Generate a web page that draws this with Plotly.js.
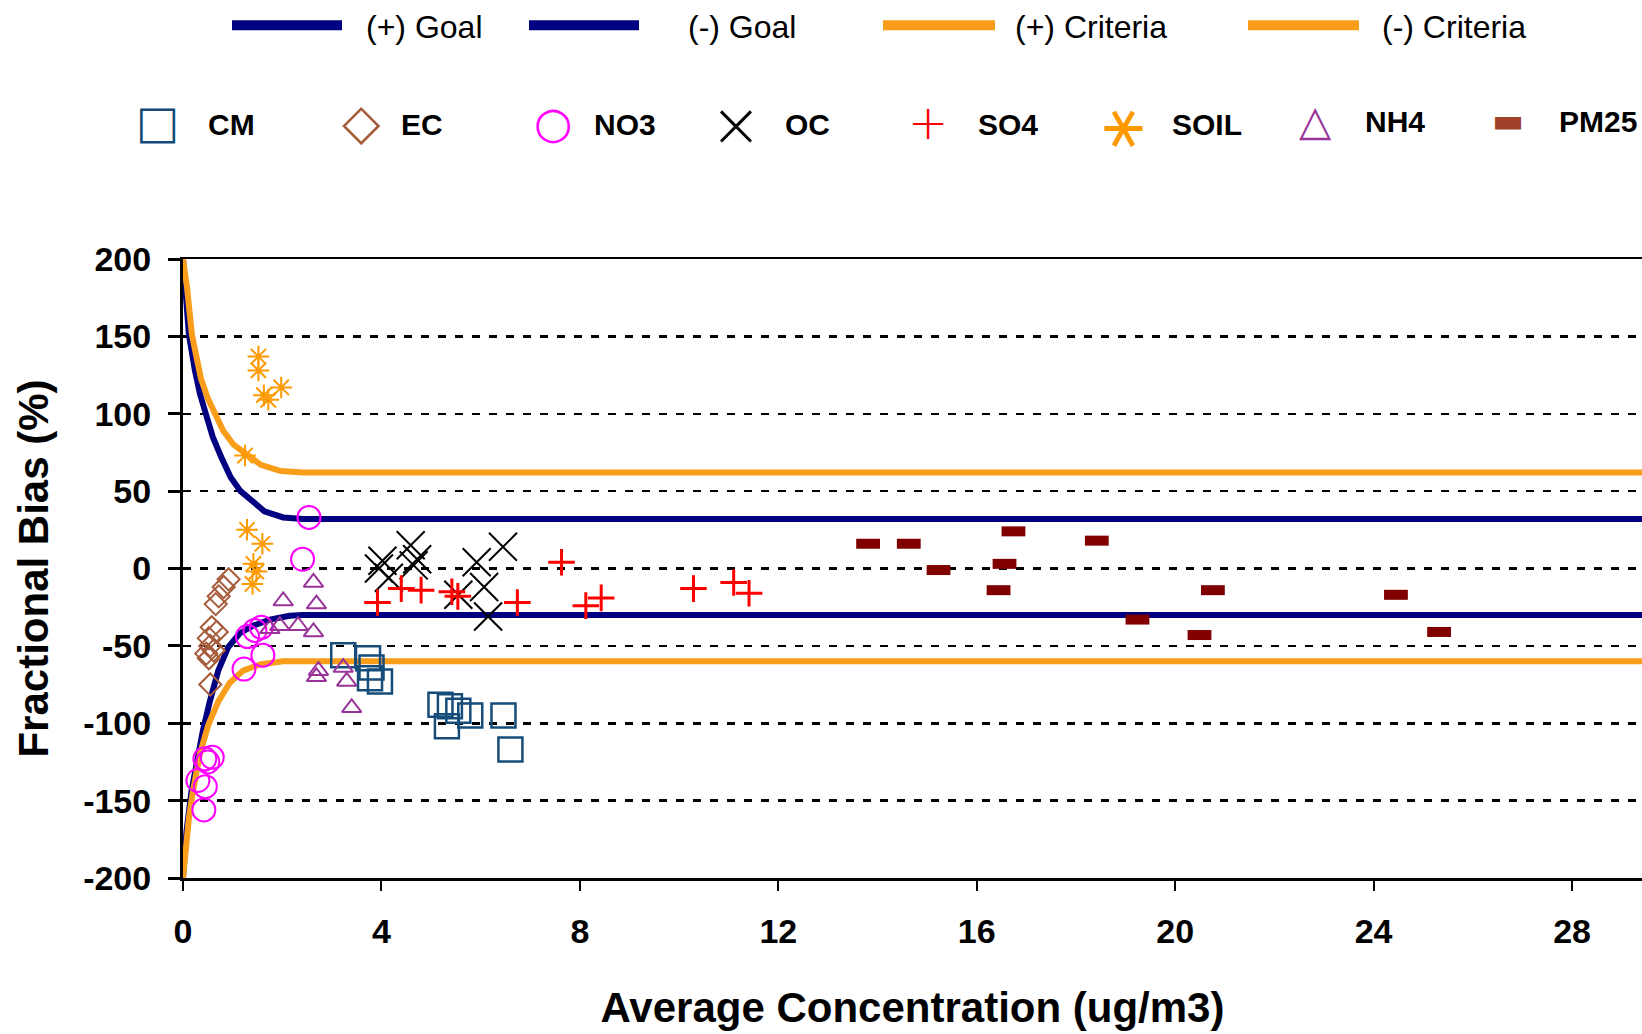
<!DOCTYPE html>
<html>
<head>
<meta charset="utf-8">
<script src="https://cdn.plot.ly/plotly-3.0.1.min.js"></script>
<style>
  html, body { margin: 0; padding: 0; background: #ffffff; }
  #chart { width: 1642px; height: 1034px; }
</style>
</head>
<body>
<div id="chart"></div>
<script>
// ---------- goal / criteria curves ----------
const goalPosX = [0, 0.07, 0.12, 0.24, 0.34, 0.46, 0.60, 0.77, 0.96, 1.16, 1.37, 1.64, 2.02, 2.42, 29.6];
const goalPosY = [200, 171, 151, 128, 113, 100, 85, 72, 59, 50, 44, 37, 33, 32, 32];
const goalNegX = [0, 0.07, 0.17, 0.27, 0.40, 0.54, 0.71, 0.91, 1.14, 1.41, 1.75, 2.15, 2.42, 29.6];
const goalNegY = [-200, -170, -144, -126, -105, -86, -66, -51, -42, -37, -33, -30.5, -30, -30];
const critPosX = [0, 0.08, 0.18, 0.36, 0.50, 0.65, 0.81, 1.02, 1.27, 1.57, 1.97, 2.42, 29.6];
const critPosY = [200, 182, 151, 123, 110, 100, 89, 80, 74, 67, 63, 62, 62];
const critNegX = [0, 0.05, 0.12, 0.20, 0.34, 0.51, 0.71, 0.94, 1.21, 1.55, 2.02, 2.42, 29.6];
const critNegY = [-200, -180, -161, -144, -120, -101, -86, -74, -66, -62, -60, -60, -60];

// ---------- species (x = average concentration, y = fractional bias %) ----------
const cmX = [3.23, 3.73, 3.80, 3.77, 3.97, 5.19, 5.38, 5.55, 5.79, 5.32, 6.46, 6.60];
const cmY = [-56, -58, -64, -71, -73, -88, -89, -92, -95, -102, -95, -117];

const ecX = [0.92, 0.82, 0.72, 0.66, 0.58, 0.68, 0.52, 0.55, 0.62, 0.47, 0.52, 0.55];
const ecY = [-7, -12, -18, -23, -38, -41, -45, -50, -53, -55, -58, -75];

const no3X = [2.54, 2.41, 1.23, 1.30, 1.45, 1.58, 1.61, 0.44, 0.59, 0.50, 0.30, 0.45, 0.42];
const no3Y = [33, 6, -65, -44, -40, -38, -56, -123, -122, -125, -137, -141, -156];

const ocX = [4.02, 3.95, 4.15, 4.59, 4.72, 4.65, 5.92, 6.45, 6.07, 5.55, 6.15];
const ocY = [5, 0, -6, 15, 6, 2, 4, 14, -12, -17, -31];

const so4X = [3.92, 4.40, 4.80, 5.42, 5.54, 6.74, 7.63, 8.12, 8.43, 10.29, 11.10, 11.41];
const so4Y = [-22, -13, -14, -15, -18, -22, 4, -24, -19, -13, -9, -16];

const soilX = [1.52, 1.52, 1.63, 1.72, 1.98, 1.25, 1.29, 1.60, 1.42, 1.48, 1.40];
const soilY = [137, 128, 112, 109, 117, 73, 25, 16, 3, -2, -10];

const nh4X = [2.63, 2.02, 2.69, 1.95, 2.32, 2.63, 1.75, 2.73, 2.69, 3.23, 3.30, 3.40];
const nh4Y = [-9, -21, -23, -37, -37, -41, -39, -66, -70, -64, -73, -90];

const pm25X = [13.81, 14.63, 15.23, 16.74, 16.56, 16.44, 18.42, 19.24, 20.49, 20.76, 24.45, 25.32];
const pm25Y = [16, 16, -1, 24, 3, -14, 18, -33, -43, -14, -17, -41];

// ---------- labels ----------
const lineNames = ['(+) Goal', '(-) Goal', '(+) Criteria', '(-) Criteria'];
const speciesNames = ['CM', 'EC', 'NO3', 'OC', 'SO4', 'SOIL', 'NH4', 'PM25'];
const xTickVals = [0, 4, 8, 12, 16, 20, 24, 28];
const yTickVals = [-200, -150, -100, -50, 0, 50, 100, 150, 200];
const xTitle = 'Average Concentration (ug/m3)';
const yTitle = 'Fractional Bias (%)';

// ---------- styles ----------
const NAVY = '#000080';
const ORANGE = '#f99d1b';
const FONT = 'Liberation Sans, Arial, Helvetica, sans-serif';

const W = 1642, H = 1034;
const L = 183, R = 0, T = 259, B = 155.5;
const plotW = W - L - R, plotH = H - T - B;
const px = x => (x - L) / plotW;
const py = y => (H - B - y) / plotH;

function lineTrace(x, y, name, color) {
  return { type: 'scatter', mode: 'lines', x: x, y: y, name: name,
           line: { color: color, width: 6 }, showlegend: false, hoverinfo: 'skip' };
}
function markerTrace(x, y, name, symbol, color, size, lw) {
  return { type: 'scatter', mode: 'markers', x: x, y: y, name: name,
           marker: { symbol: symbol, size: size, color: color,
                     line: { color: color, width: lw } },
           showlegend: false, cliponaxis: false };
}

const data = [
  lineTrace(goalPosX, goalPosY, lineNames[0], NAVY),
  lineTrace(goalNegX, goalNegY, lineNames[1], NAVY),
  lineTrace(critPosX, critPosY, lineNames[2], ORANGE),
  lineTrace(critNegX, critNegY, lineNames[3], ORANGE),
  markerTrace(cmX, cmY, speciesNames[0], 'square-open', '#154c79', 24, 2.5),
  markerTrace(ecX, ecY, speciesNames[1], 'diamond-open', '#a65b3b', 17, 2),
  markerTrace(no3X, no3Y, speciesNames[2], 'circle-open', '#ff00ff', 23, 2),
  markerTrace(ocX, ocY, speciesNames[3], 'x-thin-open', '#000000', 28, 2),
  markerTrace(so4X, so4Y, speciesNames[4], 'cross-thin-open', '#ff0000', 19, 3),
  markerTrace(soilX, soilY, speciesNames[5], 'asterisk-open', '#ff9900', 18, 2),
  markerTrace(nh4X, nh4Y, speciesNames[6], 'triangle-up-open', '#993399', 17, 2),
  markerTrace(pm25X, pm25Y, speciesNames[7], 'line-ew-open', '#800000', 17, 10)
];

// ---------- custom legend (positions in pixels, converted to paper) ----------
const shapes = [];
const annotations = [];
const lineLegend = [
  { x0: 232, x1: 342, tx: 364, color: NAVY },
  { x0: 529, x1: 639, tx: 686, color: NAVY },
  { x0: 883, x1: 995, tx: 1013, color: ORANGE },
  { x0: 1248, x1: 1359, tx: 1380, color: ORANGE }
];
lineLegend.forEach((d, i) => {
  shapes.push({ type: 'line', xref: 'paper', yref: 'paper',
                x0: px(d.x0), x1: px(d.x1), y0: py(25), y1: py(25),
                line: { color: d.color, width: 10 } });
  annotations.push({ xref: 'paper', yref: 'paper', x: px(d.tx), y: py(27),
                     xanchor: 'left', yanchor: 'middle', showarrow: false,
                     text: lineNames[i],
                     font: { family: FONT, size: 32, color: '#000000' } });
});

const symLegend = [
  { gx: 157, gy: 122, tx: 206, ty: 124, glyph: '\u25A1', color: '#154c79', gs: 46, w: 400 },
  { gx: 361, gy: 122, tx: 399, ty: 124, glyph: '\u25C7', color: '#a65b3b', gs: 50, w: 400 },
  { gx: 553, gy: 122, tx: 592, ty: 124, glyph: '\u25CB', color: '#ff00ff', gs: 44, w: 400 },
  { gx: 736, gy: 124, tx: 783, ty: 124, glyph: '\u00D7', color: '#000000', gs: 62, w: 200 },
  { gx: 928, gy: 122, tx: 976, ty: 124, glyph: '+', color: '#ff0000', gs: 48, w: 200 },
  { gx: 1123, gy: 122, tx: 1170, ty: 124, glyph: '\u26B9', color: '#ff9900', gs: 68, w: 200 },
  { gx: 1315, gy: 120, tx: 1363, ty: 121, glyph: '\u25B3', color: '#993399', gs: 42, w: 400 },
  { gx: 1508, gy: 120, tx: 1557, ty: 121, glyph: '\u25AC', color: '#a0402a', gs: 34, w: 400 }
];
symLegend.forEach((d, i) => {
  annotations.push({ xref: 'paper', yref: 'paper', x: px(d.gx), y: py(d.gy),
                     xanchor: 'center', yanchor: 'middle', showarrow: false,
                     text: d.glyph,
                     font: { family: 'DejaVu Sans, sans-serif', size: d.gs, color: d.color, weight: d.w } });
  annotations.push({ xref: 'paper', yref: 'paper', x: px(d.tx), y: py(d.ty),
                     xanchor: 'left', yanchor: 'middle', showarrow: false,
                     text: speciesNames[i],
                     font: { family: FONT, size: 30, color: '#000000', weight: 'bold' } });
});

const layout = {
  width: W, height: H,
  margin: { l: L, r: R, t: T, b: B, pad: 0 },
  paper_bgcolor: '#ffffff', plot_bgcolor: '#ffffff',
  showlegend: false,
  xaxis: {
    range: [0, 29.41], tickvals: xTickVals, ticktext: xTickVals.map(String),
    showgrid: false, zeroline: false,
    showline: true, linecolor: '#000000', linewidth: 2.5, mirror: true,
    ticks: 'outside', ticklen: 10, tickwidth: 2, tickcolor: '#000000',
    ticklabelstandoff: 12,
    tickfont: { family: FONT, size: 34, color: '#000000', weight: 'bold' },
    title: { text: xTitle, standoff: 44,
             font: { family: FONT, size: 42, color: '#000000', weight: 'bold' } }
  },
  yaxis: {
    range: [-200, 200], tickvals: yTickVals, ticktext: yTickVals.map(String),
    showgrid: true, gridcolor: '#000000', gridwidth: 2.5, griddash: '8px,9px',
    zeroline: false,
    showline: true, linecolor: '#000000', linewidth: 3,
    ticks: 'outside', ticklen: 12, tickwidth: 3, tickcolor: '#000000',
    ticklabelstandoff: 10,
    tickfont: { family: FONT, size: 34, color: '#000000', weight: 'bold' },
    title: { text: yTitle, standoff: 22,
             font: { family: FONT, size: 42, color: '#000000', weight: 'bold' } }
  },
  shapes: shapes,
  annotations: annotations
};

Plotly.newPlot('chart', data, layout, { displayModeBar: false, staticPlot: true });
</script>
</body>
</html>
